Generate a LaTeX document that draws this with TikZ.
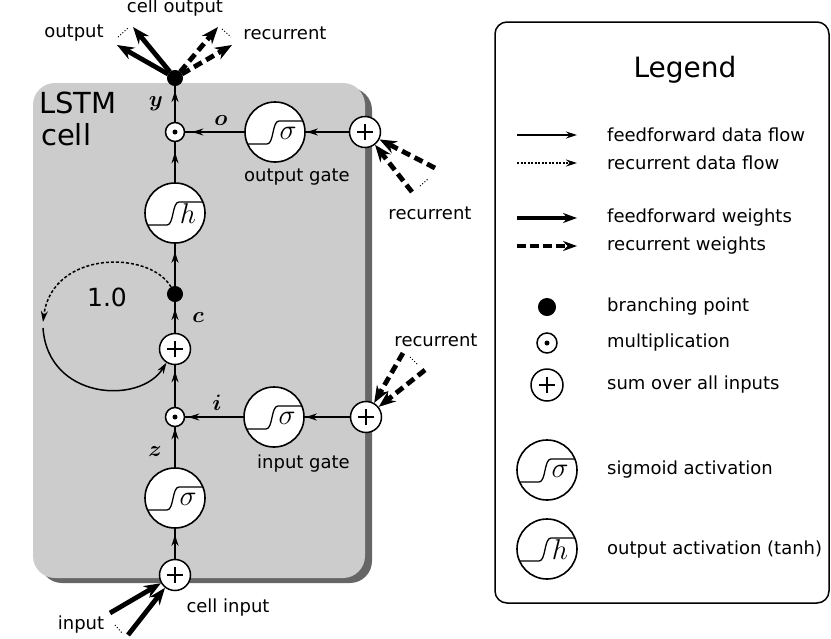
\documentclass[tikz,border=0pt]{standalone}
\usepackage{fontspec}
\setmainfont{DejaVu Sans}
\usepackage{amsmath}
\usepackage{bm}
\usetikzlibrary{arrows.meta,decorations.markings}
\newcommand\setfs[1]{\fontsize{#1}{#1}\selectfont}
\tikzset{
  flow/.style={line width=1.5pt, postaction={decorate}, decoration={markings, mark=at position #1 with {\arrow{Stealth[length=11pt,width=7pt]}}}},
  flow/.default=-4pt,
  ffw/.style={line width=4.8pt, -{Stealth[length=17pt,width=13pt]}},
  rcw/.style={ffw, dash pattern=on 9pt off 5pt},
  more/.style={line width=1pt, dash pattern=on 1pt off 2pt},
  txt/.style={font=\setfs{18}, inner sep=0pt},
  lbl/.style={font=\setfs{24.88}, inner sep=0pt, scale=0.9},
  sumnode/.style={circle, draw, line width=1.5pt, fill=white, minimum size=31pt, inner sep=0pt,
    path picture={\begin{scope}[shift={(path picture bounding box.center)}]
      \draw[black, line width=1.5pt] (-8,0) -- (8,0) (0,-8) -- (0,8);
    \end{scope}}},
  multnode/.style={circle, draw, line width=1.5pt, fill=white, minimum size=19pt, inner sep=0pt,
    path picture={\fill[black] (path picture bounding box.center) circle (2.5pt);}},
  branch/.style={circle, draw, line width=1pt, fill=black, minimum size=15pt, inner sep=0pt},
  act/.style={circle, draw, line width=1.6pt, fill=white, minimum size=60pt, inner sep=0pt,
    path picture={\begin{scope}[shift={(path picture bounding box.center)}]
      \draw[black, line width=1.3pt] (-32,12) -- (-8,12) .. controls (-1,12) and (-3,-11) .. (4,-11) -- (32,-11);
      \node[font=\setfs{24.88}, inner sep=0pt, text=black, scale=1.15] at (13,1) {$#1$};
    \end{scope}}}
}
\begin{document}
\begin{tikzpicture}[x=1pt,y=-1pt]
\useasboundingbox (0,0) rectangle (831,638);
% cell background
\fill[black!60, rounded corners=22pt] (40,88) rectangle (372,583);
\fill[gray!40, rounded corners=22pt] (33,83) rectangle (365,578);
\node[font=\setfs{29}, inner sep=0pt, anchor=west] (lstm) at (39,103) {LSTM};
\node[font=\setfs{29}, inner sep=0pt, anchor=west] (celll) at (41,135) {cell};

% nodes
\node[branch] (ybr) at (175,78) {};
\node[multnode] (omul) at (175,132) {};
\node[act=\sigma] (osig) at (275,132) {};
\node[sumnode] (osum) at (365,132) {};
\node[act=h] (htanh) at (175,213) {};
\node[branch] (cbr) at (175,294) {};
\node[sumnode] (csum) at (175,349) {};
\node[multnode] (imul) at (175,417) {};
\node[act=\sigma] (isig) at (274,417) {};
\node[sumnode] (isum) at (366,417) {};
\node[act=\sigma] (zsig) at (175,498) {};
\node[sumnode] (zsum) at (175,575) {};

% data flow
\draw[flow=-6pt] (zsum) -- (zsig);
\draw[flow=-1pt] (zsig) -- (imul);
\draw[flow=-1pt] (isum) -- (isig);
\draw[flow=-3pt] (isig) -- (imul);
\draw[flow=-6pt] (imul) -- (csum);
\draw[flow=-7pt] (csum) -- (cbr);
\draw[flow=-8pt] (cbr) -- (htanh);
\draw[flow=-10pt] (htanh) -- (omul);
\draw[flow=-1pt] (osum) -- (osig);
\draw[flow=-7pt] (osig) -- (omul);
\draw[flow=-5pt] (omul) -- (ybr);

% recurrent self loop
\coordinate (loopA) at (43,322);
\coordinate (loopB) at (43,328);
\draw[line width=1.5pt, dash pattern=on 3pt off 2pt, -{Stealth[length=11pt,width=7pt]}] (cbr) .. controls (150,250) and (52,250) .. (loopA);
\draw[line width=1.5pt, -{Stealth[length=11pt,width=7pt]}] (loopB) .. controls (48,400) and (140,405) .. (csum);
\node[font=\setfs{25}, inner sep=0pt] (one) at (107,297) {1.0};

% labels
\node[lbl] (ly) at (156,104) {$\bm{y}$};
\node[lbl] (lo) at (221,121) {$\bm{o}$};
\node[lbl] (lc) at (198,318) {$\bm{c}$};
\node[lbl] (li) at (217,403) {$\bm{i}$};
\node[lbl] (lz) at (155,452) {$\bm{z}$};

% weighted connections: cell output
\coordinate (outA) at (133,27);
\coordinate (outB) at (117,45);
\coordinate (recA) at (218,27);
\coordinate (recB) at (232,45);
\draw[ffw] (ybr) -- (outA);
\draw[ffw] (ybr) -- (outB);
\draw[rcw] (ybr) -- (recA);
\draw[rcw] (ybr) -- (recB);
\coordinate (dA1) at (118,37); \coordinate (dA2) at (128,28);
\coordinate (dB1) at (222,29); \coordinate (dB2) at (231,37);
\draw[more] (dA1) -- (dA2);
\draw[more] (dB1) -- (dB2);
\node[txt] (tco) at (175,8) {cell output};
\node[txt] (tout) at (74,33) {output};
\node[txt] (trec1) at (285,33) {recurrent};

% output gate recurrent inputs
\coordinate (ogA) at (435,168);
\coordinate (ogB) at (412,192);
\draw[rcw] (ogA) -- (osum);
\draw[rcw] (ogB) -- (osum);
\coordinate (dC1) at (420,186); \coordinate (dC2) at (428,179);
\draw[more] (dC1) -- (dC2);
\node[txt] (trec2) at (430,213) {recurrent};
\node[txt, anchor=east] (tog) at (350,177) {output gate};

% input gate recurrent inputs
\coordinate (igA) at (403,353);
\coordinate (igB) at (425,370);
\draw[rcw] (igA) -- (isum);
\draw[rcw] (igB) -- (isum);
\coordinate (dD1) at (410,357); \coordinate (dD2) at (418,365);
\draw[more] (dD1) -- (dD2);
\node[txt] (trec3) at (436,340) {recurrent};
\node[txt, anchor=east] (tig) at (350,464) {input gate};

% cell input
\coordinate (inA) at (110,613);
\coordinate (inB) at (128,635);
\draw[ffw] (inA) -- (zsum);
\draw[ffw] (inB) -- (zsum);
\coordinate (dE1) at (115,625); \coordinate (dE2) at (122,633);
\draw[more] (dE1) -- (dE2);
\node[txt] (tci) at (228,608) {cell input};
\node[txt] (tin) at (81,625) {input};

% legend
\draw[line width=1.5pt, rounded corners=12pt] (495,22) rectangle (829,603);
\node[font=\setfs{28}, inner sep=0pt] (leg) at (685,70) {Legend};
\coordinate (l1a) at (517,135); \coordinate (l1b) at (577,135);
\coordinate (l2a) at (517,163); \coordinate (l2b) at (577,163);
\coordinate (l3a) at (517,218); \coordinate (l3b) at (577,218);
\coordinate (l4a) at (517,246); \coordinate (l4b) at (577,246);
\draw[line width=1.5pt, -{Stealth[length=11pt,width=7pt]}] (l1a) -- (l1b);
\draw[line width=1.3pt, dash pattern=on 2pt off 1.5pt, -{Stealth[length=11pt,width=7pt]}] (l2a) -- (l2b);
\draw[line width=4pt, -{Stealth[length=14pt,width=10pt]}] (l3a) -- (l3b);
\draw[line width=4pt, dash pattern=on 9pt off 4pt, -{Stealth[length=14pt,width=10pt]}] (l4a) -- (l4b);
\node[txt, anchor=west] (t1) at (607,135) {feedforward data flow};
\node[txt, anchor=west] (t2) at (607,163) {recurrent data flow};
\node[txt, anchor=west] (t3) at (607,218) {feedforward weights};
\node[txt, anchor=west] (t4) at (607,246) {recurrent weights};

\node[branch, minimum size=17pt] (lbr) at (547,307) {};
\node[multnode, minimum size=20pt] (lmul) at (547,343) {};
\node[sumnode, minimum size=32pt] (lsum) at (547,385) {};
\node[act=\sigma] (lsig) at (547,470) {};
\node[act=h] (lh) at (547,549) {};
\node[txt, anchor=west] (t5) at (607,307) {branching point};
\node[txt, anchor=west] (t6) at (607,343) {multiplication};
\node[txt, anchor=west] (t7) at (607,385) {sum over all inputs};
\node[txt, anchor=west] (t8) at (607,470) {sigmoid activation};
\node[txt, anchor=west] (t9) at (607,550) {output activation (tanh)};
\end{tikzpicture}
\end{document}
